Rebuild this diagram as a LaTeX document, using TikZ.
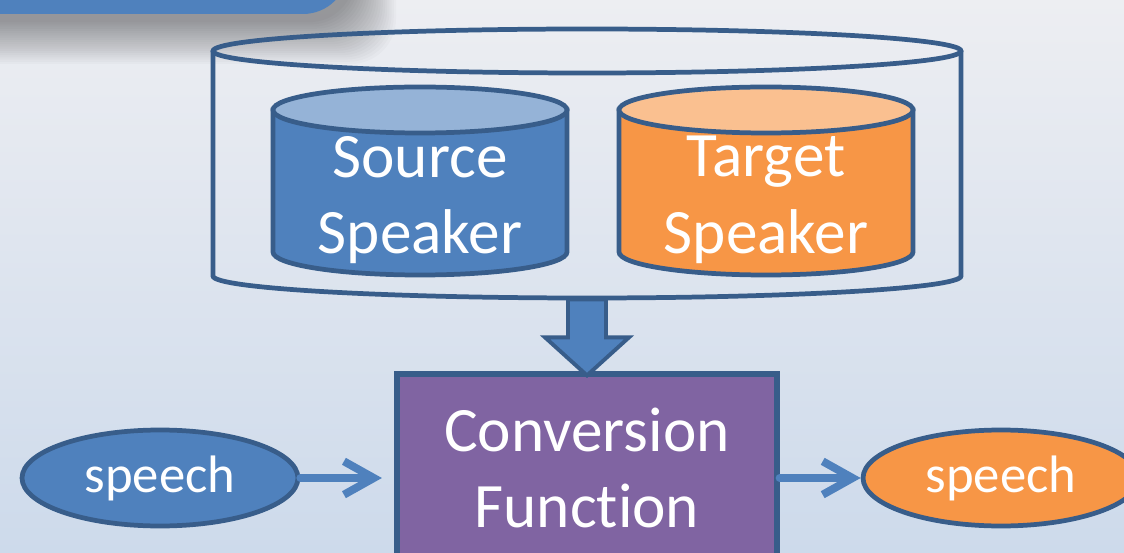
\documentclass[tikz,border=0pt]{standalone}
\usepackage{fontspec}
\setmainfont{Carlito}[Ligatures=NoCommon]
\usetikzlibrary{arrows.meta, calc, shapes.geometric}

\definecolor{ppblue}{HTML}{4F81BD}
\definecolor{pplight}{HTML}{95B3D7}
\definecolor{pporange}{HTML}{F79646}
\definecolor{ppsand}{HTML}{FAC090}
\definecolor{pppurple}{HTML}{8064A2}
\definecolor{edge}{HTML}{385D8A}
\definecolor{bgtop}{HTML}{EDEEF2}
\definecolor{bgbot}{HTML}{CDDAEB}

% small database drum: centre x, body fill, lid fill
\newcommand{\drum}[3]{%
  \filldraw[drum edge, fill=#2] (#1-147,-110) -- (#1-147,-252)
    arc[start angle=180, end angle=360, x radius=147, y radius=23] -- (#1+147,-110) -- cycle;
  \filldraw[drum edge, fill=#3] (#1,-110) ellipse [x radius=147, y radius=23];
}

\begin{document}
\begin{tikzpicture}[x=0.02cm, y=0.02cm,
            drum edge/.style={draw=edge, line width=2.7pt},
            drum label/.style={text=white, align=center, font=\fontsize{36}{43.7}\selectfont},
            convbox/.style={draw=edge, line width=3pt, fill=pppurple, text=white, align=center,
                minimum width=7.6cm, minimum height=3.76cm, font=\fontsize{36}{43.7}\selectfont},
            speech/.style={ellipse, draw=edge, line width=2.7pt, text=white,
                minimum width=5.52cm, minimum height=1.92cm, font=\fontsize{30}{36}\selectfont},
            flow/.style={-{Straight Barb[length=17pt, width=19pt]}, line width=4.5pt, ppblue,
                line cap=round, line join=round}]

            % Slide background
            \clip (0,0) rectangle (1124,-553);
            \shade[top color=bgtop, bottom color=bgbot] (0,0) rectangle (1124,-553);

            % Title banner with soft shadow
            \foreach \i [evaluate=\i as \e using (20-\i)*2.2] in {0,...,19}
                \fill[black, opacity=0.021, rounded corners=0.9cm] (-80-\e,60+\e) rectangle (352+\e,-20-\e);
            \fill[ppblue, rounded corners=0.9cm] (-80,60) rectangle (348,-14);

            % Outer drum holding both speakers
            \draw[drum edge] (213,-51) -- (213,-276)
                arc[start angle=180, end angle=360, x radius=374, y radius=22] -- (961,-51);
            \draw[drum edge] (587,-51) ellipse [x radius=374, y radius=22];

            % Speaker drums
            \drum{420}{ppblue}{pplight}
            \drum{766}{pporange}{ppsand}
            \node[drum label] (src) at (420,-200) {Source\\Speaker};
            \node[drum label] (tgt) at (766,-200) {Target\\Speaker};

            % Conversion function
            \node[convbox] (conv) at (587,-468) {Conversion\\Function};

            % Block arrow into the box
            \filldraw[fill=ppblue, draw=edge, line width=2.2pt, line join=miter]
                ($(conv.north)+(-19,72)$) -- ($(conv.north)+(19,72)$) -- ($(conv.north)+(19,34)$)
                -- ($(conv.north)+(42,34)$) -- ($(conv.north)+(0,-4)$) -- ($(conv.north)+(-42,34)$)
                -- ($(conv.north)+(-19,34)$) -- cycle;

            % Input and output speech
            \node[speech, fill=ppblue] (in) at (160,-478) {speech};
            \node[speech, fill=pporange] (out) at (1001,-478) {speech};

            \draw[flow, shorten >=0.25cm] (in) -- (in -| conv.west);
            \draw[flow] (conv.east |- out) -- (out);
        \end{tikzpicture}
\end{document}
